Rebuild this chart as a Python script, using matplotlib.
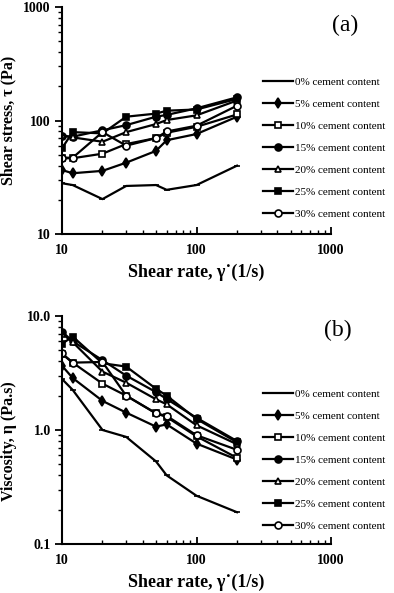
import matplotlib
matplotlib.use("Agg")
import matplotlib.pyplot as plt
from matplotlib.ticker import LogLocator, NullFormatter, FixedLocator, FixedFormatter

# ---------------- data ----------------
shear_rate = [10, 12, 20, 30, 50, 60, 100, 200]
labels = ["0% cement content", "5% cement content", "10% cement content",
          "15% cement content", "20% cement content", "25% cement content",
          "30% cement content"]

stress_0 = [28, 27, 20.3, 26.5, 27, 24.5, 27, 40]
stress_5 = [36.6, 34.3, 36, 42.5, 54, 67, 76, 108]
stress_10 = [46.5, 46.5, 51, 62, 70, 78, 88, 113]
stress_15 = [73, 72, 82, 91, 108, 112, 128, 160]
stress_20 = [74, 71, 65, 79, 93, 101, 111, 150]
stress_25 = [57, 79, 77, 108, 115, 122, 125, 155]
stress_30 = [47, 47, 79, 60, 70, 80, 90, 135]

visc_0 = [2.8, 2.25, 1.0, 0.87, 0.53, 0.40, 0.265, 0.19]
visc_5 = [3.66, 2.86, 1.8, 1.42, 1.07, 1.12, 0.76, 0.55]
visc_10 = [4.65, 3.9, 2.55, 2.0, 1.4, 1.3, 0.88, 0.57]
visc_15 = [7.3, 6.0, 4.1, 3.0, 2.15, 1.87, 1.28, 0.8]
visc_20 = [7.0, 5.9, 3.25, 2.6, 1.86, 1.68, 1.1, 0.75]
visc_25 = [5.7, 6.6, 3.85, 3.6, 2.3, 2.0, 1.25, 0.78]
visc_30 = [4.7, 3.9, 3.95, 2.0, 1.4, 1.33, 0.9, 0.67]

stress_series = [stress_0, stress_5, stress_10, stress_15, stress_20, stress_25, stress_30]
visc_series = [visc_0, visc_5, visc_10, visc_15, visc_20, visc_25, visc_30]

top_yticks = [10, 100, 1000]
top_yticklabels = ["10", "100", "1000"]
bot_yticks = [0.1, 1.0, 10.0]
bot_yticklabels = ["0.1", "1.0", "10.0"]
xticks = [10, 100, 1000]
xticklabels = ["10", "100", "1000"]

# ---------------- style ----------------
markers = ["_", "d", "s", "o", "^", "s", "o"]
faces = ["black", "black", "white", "black", "white", "black", "white"]
msizes = [5, 5, 5, 5, 5, 5, 5]

serif = ["Liberation Serif", "DejaVu Serif"]
plt.rcParams["font.family"] = serif
plt.rcParams["mathtext.fontset"] = "stix"

fig = plt.figure(figsize=(3.94, 5.93), dpi=100)
W, H = 394, 593


def make_axes(top_px, bottom_px):
    left, right = 62, 331
    return fig.add_axes([left / W, 1 - bottom_px / H, (right - left) / W,
                         (bottom_px - top_px) / H])


ax1 = make_axes(7, 234)
ax2 = make_axes(316, 544)


def style(ax, series, ylim, yt, ytl, ylabel, ylabel_y, panel, panel_xy, leg_top):
    for s, lab, m, fc, ms in zip(series, labels, markers, faces, msizes):
        ax.plot(shear_rate, s, color="black", lw=1.6, marker=m, ms=ms,
                mfc=fc, mec="black", mew=1.2, label=lab)
    ax.set_xscale("log")
    ax.set_yscale("log")
    ax.set_xlim(10, 1000)
    ax.set_ylim(*ylim)
    for sp in ["top", "right"]:
        ax.spines[sp].set_visible(False)
    for sp in ["left", "bottom"]:
        ax.spines[sp].set_linewidth(1.5)
    ax.xaxis.set_major_locator(FixedLocator(xticks))
    ax.xaxis.set_major_formatter(FixedFormatter(xticklabels))
    ax.xaxis.set_minor_locator(LogLocator(base=10, subs=range(2, 10)))
    ax.xaxis.set_minor_formatter(NullFormatter())
    ax.yaxis.set_major_locator(FixedLocator(yt))
    ax.yaxis.set_major_formatter(FixedFormatter(ytl))
    ax.yaxis.set_minor_locator(LogLocator(base=10, subs=range(2, 10)))
    ax.yaxis.set_minor_formatter(NullFormatter())
    ax.tick_params(axis="x", which="major", direction="in", length=5, width=1.3,
                   pad=7, labelsize=10)
    ax.tick_params(axis="x", which="minor", direction="in", length=3, width=1.0)
    ax.tick_params(axis="y", which="major", direction="out", length=5, width=1.3,
                   pad=3, labelsize=10)
    ax.tick_params(axis="y", which="minor", direction="out", length=3, width=1.0)
    for t in ax.get_xticklabels() + ax.get_yticklabels():
        t.set_fontweight("bold")
    ax.set_xlabel("Shear rate, \u03b3\u02d9(1/s)", fontsize=13, fontweight="bold",
                  labelpad=5)
    ax.set_ylabel(ylabel, fontsize=11.5, fontweight="bold")
    ax.yaxis.set_label_coords(-0.168, ylabel_y)
    ax.text(panel_xy[0] / W, 1 - panel_xy[1] / H, panel, transform=fig.transFigure,
            fontsize=17, ha="center", va="center")
    ax.legend(loc="upper left", bbox_to_anchor=(263 / W, 1 - leg_top / H),
              bbox_transform=fig.transFigure, frameon=False, fontsize=8,
              handlelength=2.7, handletextpad=0.2, labelspacing=1.1,
              borderpad=0, borderaxespad=0, markerscale=1.0)


style(ax1, stress_series, (10, 1000), top_yticks, top_yticklabels,
      "Shear stress, \u03c4 (Pa)", 0.5, "(a)", (345, 25), 77)
style(ax2, visc_series, (0.1, 10), bot_yticks, bot_yticklabels,
      "Viscosity, \u03b7 (Pa.s)", 0.45, "(b)", (338, 330), 389)

fig.savefig("out.png", dpi=100)
